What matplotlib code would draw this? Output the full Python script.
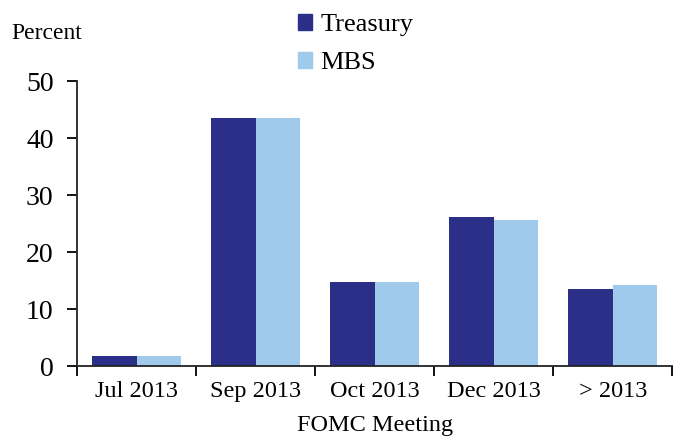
import numpy as np
import matplotlib
matplotlib.use('Agg')
import matplotlib.pyplot as plt
from matplotlib.patches import Patch

plt.rcParams['font.family'] = ['Liberation Serif', 'DejaVu Serif']

meetings = ['Jul 2013', 'Sep 2013', 'Oct 2013', 'Dec 2013', '> 2013']
treasury = [1.7, 43.6, 14.8, 26.2, 13.6]
mbs = [1.8, 43.5, 14.7, 25.7, 14.2]

navy = '#2b2f87'
light = '#9fcaeb'

fig = plt.figure(figsize=(6.77, 4.46), dpi=100)
ax = fig.add_axes([0.114, 0.179, 0.879, 0.639])

x = np.arange(len(meetings))
w = 0.375
ax.bar(x - w / 2, treasury, w, color=navy)
ax.bar(x + w / 2, mbs, w, color=light)

ax.set_xlim(-0.5, len(meetings) - 0.5)
ax.set_ylim(0, 50)
ax.set_yticks([0, 10, 20, 30, 40, 50])
ax.set_xticks(x)
ax.set_xticklabels(meetings)
ax.set_xticks(np.arange(-0.5, len(meetings)), minor=True)
ax.tick_params(axis='x', which='major', length=0, labelsize=17.5, pad=11)
ax.tick_params(axis='x', which='minor', length=7, width=1.3, direction='out')
ax.tick_params(axis='y', length=7, width=1.3, direction='out', labelsize=20, pad=10)

for s in ['top', 'right']:
    ax.spines[s].set_visible(False)
for s in ['left', 'bottom']:
    ax.spines[s].set_linewidth(1.3)
    ax.spines[s].set_color('#222222')

ax.set_xlabel('FOMC Meeting', fontsize=17.5, labelpad=9)
fig.text(0.017, 0.925, 'Percent', fontsize=17, va='center', ha='left')

handles = [Patch(color=navy, label='Treasury'), Patch(color=light, label='MBS')]
fig.legend(handles=handles, loc='upper left', bbox_to_anchor=(0.405, 1.022),
           frameon=False, fontsize=19, handlelength=0.55, handleheight=0.55,
           handletextpad=0.3, labelspacing=0.6)

fig.savefig('out.png', dpi=100)
